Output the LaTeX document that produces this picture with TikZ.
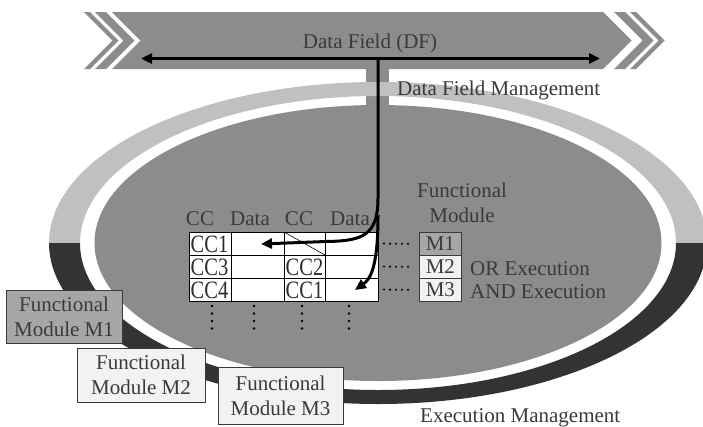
\documentclass[tikz,border=0pt]{standalone}
\usepackage{fontspec}
\setmainfont{Liberation Serif}
\newfontfamily\cellfont[FakeStretch=0.82]{Liberation Serif}
\usetikzlibrary{arrows.meta}

\definecolor{fieldgray}{HTML}{8C8C8C}
\definecolor{ringlight}{HTML}{C0C0C0}
\definecolor{ringdark}{HTML}{333333}
\definecolor{modgray}{HTML}{A6A6A6}
\definecolor{modlight}{HTML}{F2F2F2}
\definecolor{ink}{HTML}{3A3A3A}

\tikzset{
  lbl/.style={font=\fontsize{21}{25}\selectfont, text=ink, inner sep=0pt},
  heavy/.style={line width=3pt, draw=black},
  tipend/.style={-{Triangle[length=11pt,width=10pt]}},
  tipboth/.style={{Triangle[length=11pt,width=10pt]}-{Triangle[length=11pt,width=10pt]}},
  gridline/.style={line width=0.9pt, draw=black},
  dotrow/.style={line width=2.3pt, line cap=round, dash pattern=on 0pt off 6pt, shorten <=6pt, shorten >=8pt},
  dotcol/.style={line width=2.6pt, line cap=round, dash pattern=on 0pt off 7.5pt},
  modbox/.style={lbl, draw=ink, line width=0.8pt, align=center},
  mtag/.style={lbl, draw=ink, line width=0.8pt, minimum width=42pt, minimum height=23pt, anchor=north west},
  celltext/.style={font=\cellfont\fontsize{25}{28}\selectfont, text=black!82, inner sep=0pt, anchor=base west},
  head/.style={lbl, anchor=base},
}

\begin{document}
\begin{tikzpicture}[x=1pt,y=-1pt]
\useasboundingbox (0,0) rectangle (703,426);
\fill[white] (0,0) rectangle (703,426);

% connection shaft between the data field and the execution space
\fill[fieldgray] (366,69) rectangle (389,107);

% management ring: light upper half, dark lower half
\coordinate (ctr) at (378,243);
\begin{scope}
  \clip (0,0) rectangle (710,243);
  \fill[ringlight, even odd rule] (ctr) ellipse [x radius=329pt, y radius=161pt]
                                  (ctr) ellipse [x radius=298pt, y radius=147pt];
\end{scope}
\begin{scope}
  \clip (0,243) rectangle (710,430);
  \fill[ringdark, even odd rule] (ctr) ellipse [x radius=329pt, y radius=161pt]
                                 (ctr) ellipse [x radius=298pt, y radius=147pt];
\end{scope}

% execution space
\fill[fieldgray] (ctr) ellipse [x radius=283.5pt, y radius=138pt];

% data field banner with chevrons
\fill[fieldgray] (112,12) -- (603,12) -- (631.5,40.5) -- (603,69) -- (112,69) -- (140.5,40.5) -- cycle;
\foreach \a/\b in {84/90, 95/106, 614/625, 630/636}
  \fill[fieldgray] (\a,12) -- (\b,12) -- ({\b+28.5},40.5) -- (\b,69) -- (\a,69) -- ({\a+28.5},40.5) -- cycle;

\node[head] (dftitle) at (370,48) {Data Field (DF)};
\node[lbl, anchor=base west] (dfmgmt) at (397,95) {Data Field Management};
\node[lbl, anchor=base west] (exmgmt) at (420,422) {Execution Management};

% condition-code table
\fill[white] (189,232) rectangle (378,301);
\draw[gridline] (189,232) rectangle (378,301);
\foreach \x in {231,284,325} \draw[gridline] (\x,232) -- (\x,301);
\foreach \y in {255,278} \draw[gridline] (189,\y) -- (378,\y);
\draw[line width=0.6pt] (284,232) -- (325,255);

\node[head] (hcc1) at (200,225) {CC};
\node[head] (hd1) at (250,225) {Data};
\node[head] (hcc2) at (299,225) {CC};
\node[head] (hd2) at (350,225) {Data};

\node[celltext] (c11) at (190.5,252) {CC1};
\node[celltext] (c21) at (190.5,275) {CC3};
\node[celltext] (c23) at (285.5,275) {CC2};
\node[celltext] (c31) at (190.5,298) {CC4};
\node[celltext] (c33) at (285.5,298) {CC1};

\foreach \x in {212,254,302,349} \draw[dotcol] (\x,306) -- (\x,329);

% functional module column
\node[lbl, align=center] (fmhead) at (462,202.4) {Functional\\Module};
\node[mtag, fill=modgray] (m1) at (419,232) {M1};
\node[mtag, fill=modlight] (m2) at (419,255) {M2};
\node[mtag, fill=modlight] (m3) at (419,278) {M3};
\node[lbl, anchor=base west] (orx) at (470,275) {OR Execution};
\node[lbl, anchor=base west] (andx) at (470,298) {AND Execution};

\coordinate (r1) at (378,243.5);
\coordinate (r2) at (378,266.5);
\coordinate (r3) at (378,289.5);
\draw[dotrow] (r1) -- (m1.west);
\draw[dotrow] (r2) -- (m2.west);
\draw[dotrow] (r3) -- (m3.west);

% data flow arrows
\coordinate (dfl) at (141,58.5);
\coordinate (dfr) at (600,58.5);
\coordinate (junc) at (378,58.5);
\coordinate (fork) at (378,215);
\coordinate (a1) at (261,244);
\coordinate (a2) at (355,290);
\draw[heavy, tipboth] (dfl) -- (dfr);
\draw[heavy, tipend] (junc) -- (378,198) .. controls (378,236) and (362,241) .. (326,241.5) -- (a1);
\draw[heavy, tipend] (fork) .. controls (378,262) and (372,278) .. (a2);

% functional module boxes
\node[modbox, fill=modgray, minimum width=116pt, minimum height=53pt] (f1) at (64,316.5) {Functional\\Module M1};
\node[modbox, fill=modlight, minimum width=128pt, minimum height=54pt] (f2) at (141,375) {Functional\\Module M2};
\node[modbox, fill=modlight, minimum width=125pt, minimum height=57pt] (f3) at (280.5,396) {Functional\\Module M3};
\end{tikzpicture}
\end{document}
